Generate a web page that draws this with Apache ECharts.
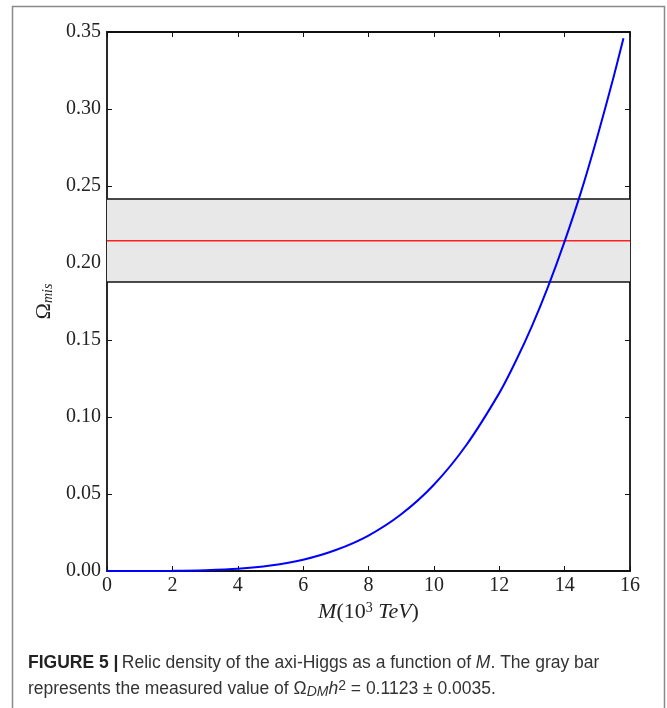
<!DOCTYPE html>
<html>
<head>
<meta charset="utf-8">
<script src="https://cdn.jsdelivr.net/npm/echarts@6/dist/echarts.min.js"></script>
<style>
html,body{margin:0;padding:0;background:#fff;}
#chart{width:667px;height:708px;}
</style>
</head>
<body>
<div id="chart"></div>
<script>
// Data
const massM = [0, 1, 2, 3, 4, 5, 6, 7, 8, 9, 10, 11, 12, 12.5, 13, 13.5, 14, 14.5, 15, 15.5, 15.8];
const omegaMis = [0, 0.00001, 0.0001, 0.0005, 0.0014, 0.0035, 0.0073, 0.0136, 0.0230, 0.0368, 0.0560, 0.0820, 0.1155, 0.1360, 0.1590, 0.1850, 0.2140, 0.2460, 0.2820, 0.3210, 0.3460];
const bandLow = 0.1877;
const bandHigh = 0.2416;
const bandCenter = 0.2145;
const xRange = [0, 16];
const yRange = [0, 0.35];
const xTickStep = 2;
const yTickStep = 0.05;

const serif = '"Liberation Serif", "DejaVu Serif", serif';
const sans = '"Liberation Sans", "Noto Sans", sans-serif';

const chart = echarts.init(document.getElementById('chart'), null, {renderer: 'canvas'});

const axisLine = {show: true, onZero: false, lineStyle: {color: '#111', width: 1.8}};
const axisTick = {show: true, inside: true, length: 5, lineStyle: {color: '#111', width: 1}};

const curveData = massM.map((m, i) => [m, omegaMis[i]]);

chart.setOption({
  animation: false,
  backgroundColor: '#fff',
  grid: {left: 107, right: 37, top: 32, bottom: 137, containLabel: false},
  xAxis: [{
    type: 'value', min: xRange[0], max: xRange[1], interval: xTickStep,
    position: 'bottom',
    axisLine: axisLine, axisTick: axisTick, splitLine: {show: false},
    axisLabel: {fontFamily: serif, fontSize: 20, color: '#222', margin: 5},
    name: '{it|M}{rm|(10}{sup|3}{it| TeV}{rm|)}',
    nameLocation: 'middle', nameGap: 30,
    nameTextStyle: {
      rich: {
        it: {fontFamily: serif, fontStyle: 'italic', fontSize: 22, color: '#222'},
        rm: {fontFamily: serif, fontSize: 22, color: '#222'},
        sup: {fontFamily: serif, fontSize: 14, color: '#222', verticalAlign: 'top', padding: [0, 0, 9, 0]}
      }
    }
  }, {
    type: 'value', min: xRange[0], max: xRange[1], interval: xTickStep,
    position: 'top',
    axisLine: axisLine, axisTick: axisTick, splitLine: {show: false},
    axisLabel: {show: false}
  }],
  yAxis: [{
    type: 'value', min: yRange[0], max: yRange[1], interval: yTickStep,
    position: 'left',
    axisLine: axisLine, axisTick: axisTick, splitLine: {show: false},
    axisLabel: {fontFamily: serif, fontSize: 20, color: '#222', margin: 6,
      formatter: v => v.toFixed(2)},
    name: '{om|Ω}{sub|mis}',
    nameLocation: 'middle', nameGap: 46, nameRotate: 90,
    nameTextStyle: {
      rich: {
        om: {fontFamily: serif, fontSize: 22, color: '#222'},
        sub: {fontFamily: serif, fontStyle: 'italic', fontSize: 14, color: '#222', verticalAlign: 'bottom', padding: [8, 0, 0, 0]}
      }
    }
  }, {
    type: 'value', min: yRange[0], max: yRange[1], interval: yTickStep,
    position: 'right',
    axisLine: axisLine, axisTick: axisTick, splitLine: {show: false},
    axisLabel: {show: false}
  }],
  series: [
    {
      type: 'line', name: 'band-upper', xAxisIndex: 0, yAxisIndex: 0,
      data: [[xRange[0], bandHigh], [xRange[1], bandHigh]],
      showSymbol: false, silent: true, z: 2,
      lineStyle: {color: '#111', width: 1.5},
      markArea: {
        silent: true,
        itemStyle: {color: '#e8e8e8'},
        data: [[{xAxis: xRange[0], yAxis: bandLow}, {xAxis: xRange[1], yAxis: bandHigh}]]
      }
    },
    {
      type: 'line', name: 'band-lower',
      data: [[xRange[0], bandLow], [xRange[1], bandLow]],
      showSymbol: false, silent: true, z: 2,
      lineStyle: {color: '#111', width: 1.5}
    },
    {
      type: 'line', name: 'measured',
      data: [[xRange[0], bandCenter], [xRange[1], bandCenter]],
      showSymbol: false, silent: true, z: 3,
      lineStyle: {color: '#ff2020', width: 1.5}
    },
    {
      type: 'line', name: 'omega',
      data: curveData, smooth: 0.3,
      showSymbol: false, silent: true, z: 4,
      lineStyle: {color: '#0000ff', width: 2}
    }
  ],
  graphic: [
    {
      type: 'rect', silent: true, z: 100,
      shape: {x: 12.5, y: 6.5, width: 652, height: 740},
      style: {fill: null, stroke: '#8a8a8a', lineWidth: 1.5}
    },
    {
      type: 'text', left: 28, top: 654, silent: true,
      style: {
        text: '{b|FIGURE 5 |} {r|Relic density of the axi-Higgs as a function of }{i|M}{r|. The gray bar}',
        rich: {
          b: {fontFamily: sans, fontWeight: 'bold', fontSize: 17.5, fill: '#222'},
          r: {fontFamily: sans, fontSize: 17.5, fill: '#333'},
          i: {fontFamily: sans, fontStyle: 'italic', fontSize: 17.5, fill: '#333'}
        }
      }
    },
    {
      type: 'text', left: 28, top: 679, silent: true,
      style: {
        text: '{r|represents the measured value of Ω}{sub|DM}{i|h}{sup|2}{r| = 0.1123 ± 0.0035.}',
        rich: {
          r: {fontFamily: sans, fontSize: 17.5, fill: '#333'},
          i: {fontFamily: sans, fontStyle: 'italic', fontSize: 17.5, fill: '#333'},
          sub: {fontFamily: sans, fontStyle: 'italic', fontSize: 14, fill: '#333', verticalAlign: 'bottom', padding: [6, 0, 0, 0]},
          sup: {fontFamily: sans, fontSize: 14, fill: '#333', verticalAlign: 'top', padding: [0, 0, 6, 0]}
        }
      }
    }
  ]
});
</script>
</body>
</html>
